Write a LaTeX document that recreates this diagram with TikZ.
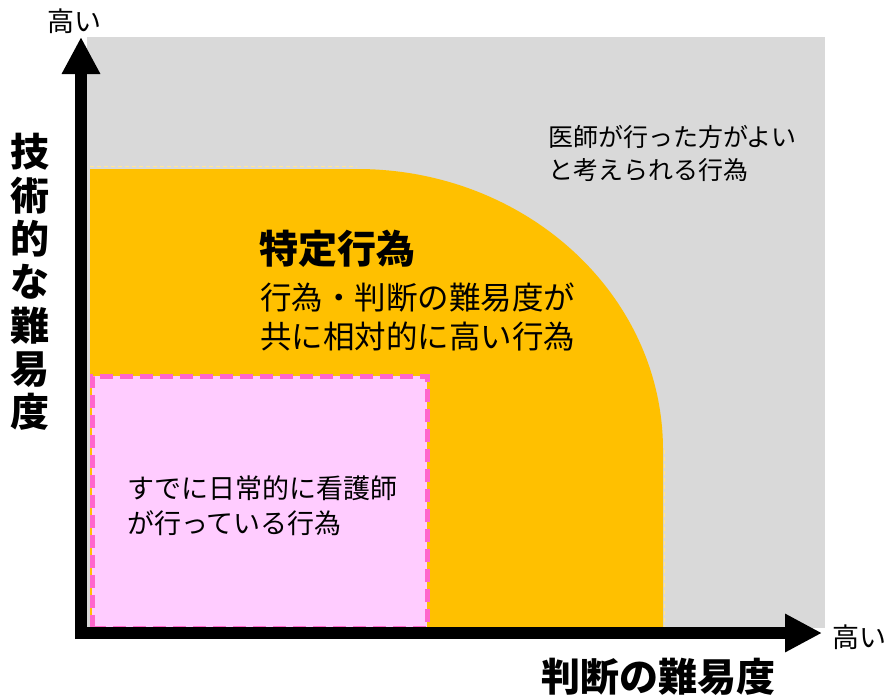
\documentclass[tikz,border=0pt]{standalone}
\usepackage{fontspec}
\newfontfamily\jp{Noto Sans CJK JP}
\usetikzlibrary{arrows.meta}
\definecolor{bggray}{HTML}{D9D9D9}
\definecolor{orng}{HTML}{FFC000}
\definecolor{pinkfill}{HTML}{FFCCFF}
\definecolor{pinkline}{HTML}{FF66CC}
\definecolor{yedge}{HTML}{FFE699}
\begin{document}
\begin{tikzpicture}[x=1pt,y=-1pt,
  axisline/.style={line width=12pt, black, -{Triangle[length=37pt,width=36pt]}},
  highlbl/.style={inner sep=0pt, font=\jp\fontsize{27}{30}\selectfont},
  axislbl/.style={inner sep=0pt, font=\jp\bfseries\fontsize{39}{43.3}\selectfont},
  titlelbl/.style={inner sep=0pt, font=\jp\bfseries\fontsize{39}{42}\selectfont},
  sublbl/.style={inner sep=0pt, align=left, font=\jp\fontsize{31.5}{39}\selectfont},
  graylbl/.style={inner sep=0pt, align=left, font=\jp\fontsize{25}{33}\selectfont},
  pinklbl/.style={inner sep=0pt, align=left, font=\jp\fontsize{27}{35}\selectfont},
  edgedash/.style={yedge, line width=0.8pt, dash pattern=on 4pt off 3pt},
  pinkbox/.style={draw=pinkline, fill=pinkfill, line width=5pt, dash pattern=on 13pt off 7pt}
]
\useasboundingbox (0,0) rectangle (890,696);
% background regions
\fill[bggray] (87,37) rectangle (825,628);
\fill[orng] (90,628) -- (90,169) -- (357,169)
  arc[start angle=90, end angle=0, x radius=306pt, y radius=281pt]
  -- (663,628) -- cycle;
\draw[edgedash] (90,166) -- (357,166);
\draw[edgedash] (664,450) -- (664,628);
\draw[pinkbox] (92,628) rectangle (427,376);
% axes
\coordinate (O) at (81,639);
\coordinate (Ytop) at (81,37);
\coordinate (Xstart) at (75,633);
\coordinate (Xend) at (822,633);
\draw[axisline] (O) -- (Ytop);
\draw[axisline] (Xstart) -- (Xend);
% labels
\node[highlbl] (yhigh) at (74,21) {高い};
\node[highlbl] (xhigh) at (859,637) {高い};
\node[axislbl, align=center] (ylab) at (30,282) {技\\術\\的\\な\\難\\易\\度};
\node[axislbl] (xlab) at (658,677) {判断の難易度};
\node[titlelbl, anchor=west] (ttl) at (259,249) {特定行為};
\node[sublbl, anchor=west] (sub) at (260,316.5) {行為・判断の難易度が\\共に相対的に高い行為};
\node[graylbl, anchor=west] (doc) at (548,153.5) {医師が行った方がよい\\と考えられる行為};
\node[pinklbl, anchor=west] (nurse) at (127,505.5) {すでに日常的に看護師\\が行っている行為};
\end{tikzpicture}
\end{document}
